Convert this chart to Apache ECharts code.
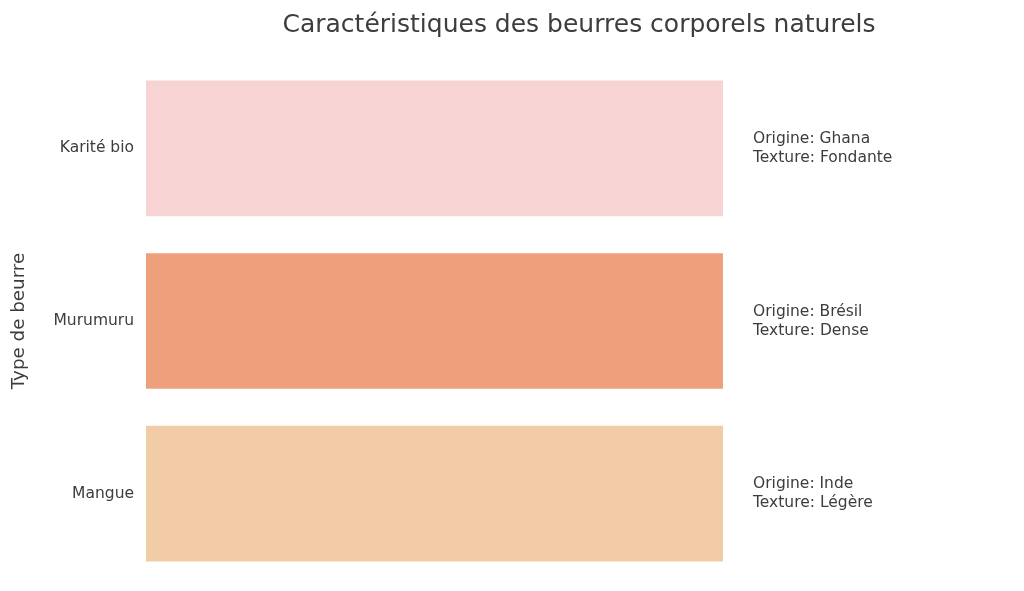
<!DOCTYPE html>
<html><head><meta charset="utf-8">
<script src="https://cdn.jsdelivr.net/npm/echarts@6/dist/echarts.min.js"></script>
<style>html,body{margin:0;padding:0;background:#fff}#c{width:1024px;height:591px}</style>
</head><body><div id="c"></div>
<script>
const categories = ["Karité bio", "Murumuru", "Mangue"];
const values = [1, 1, 1];
const origins = ["Ghana", "Brésil", "Inde"];
const textures = ["Fondante", "Dense", "Légère"];
const colors = ["#F8D3D3", "#EDA07B", "#F2CBA7"];

const chart = echarts.init(document.getElementById('c'));
chart.setOption({
  backgroundColor: '#ffffff',
  animation: false,
  title: {
    text: 'Caractéristiques des beurres corporels naturels',
    left: 574, top: 8, textAlign: 'center',
    textStyle: { fontFamily: 'DejaVu Sans', fontSize: 25, fontWeight: 'normal', color: '#3d3d3d' }
  },
  grid: { left: 146, right: 1024 - 723, top: 62, bottom: 591 - 580 },
  xAxis: { type: 'value', min: 0, max: 1, show: false },
  yAxis: {
    type: 'category', data: categories, inverse: true,
    name: 'Type de beurre', nameLocation: 'middle', nameGap: 118, nameRotate: 90,
    nameTextStyle: { fontFamily: 'DejaVu Sans', fontSize: 18.3, color: '#3d3d3d' },
    axisLine: { show: false }, axisTick: { show: false }, splitLine: { show: false },
    axisLabel: { fontFamily: 'DejaVu Sans', fontSize: 15.5, color: '#3d3d3d', margin: 12, padding: [6, 0, 0, 0] }
  },
  series: [{
    type: 'bar',
    barCategoryGap: '21.4%',
    data: values.map((v, i) => ({ value: v, itemStyle: { color: colors[i] } })),
    label: {
      show: true, position: 'right', distance: 30,
      fontFamily: 'DejaVu Sans', fontSize: 15.5, color: '#3d3d3d', lineHeight: 19, align: 'left',
      padding: [4, 0, 0, 0],
      formatter: p => 'Origine: ' + origins[p.dataIndex] + '\nTexture: ' + textures[p.dataIndex]
    }
  }]
});
</script></body></html>
